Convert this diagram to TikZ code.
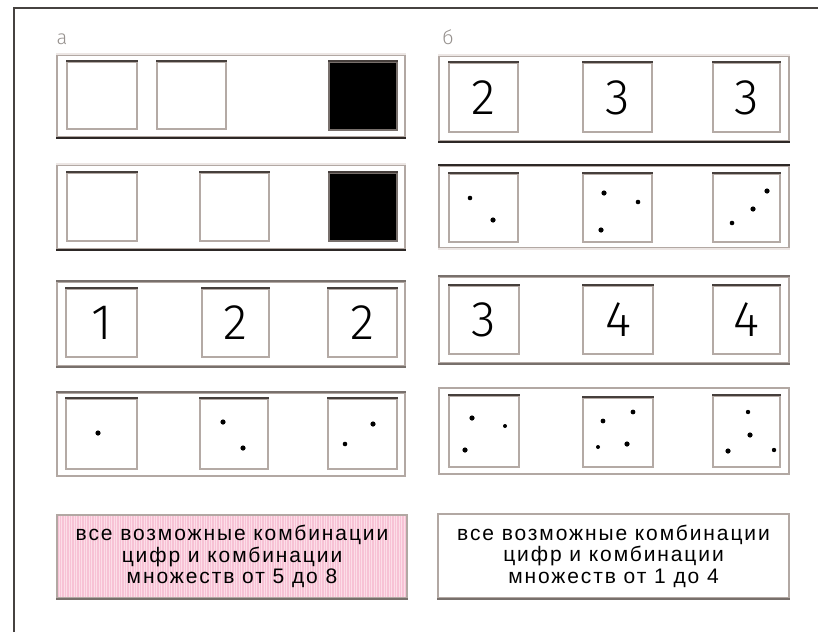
\documentclass[tikz,border=0pt]{standalone}
\usepackage{fontspec}
\setmainfont{Liberation Sans}
\newfontfamily\boxfont[LetterSpace=9]{Liberation Sans}
\newfontfamily\digfont{Fira Sans Light}
\definecolor{framec}{RGB}{70,66,64}
\definecolor{panelc}{RGB}{178,168,163}
\definecolor{lightc}{RGB}{236,230,228}
\definecolor{darkc}{RGB}{45,40,38}
\definecolor{midc}{RGB}{120,112,108}
\definecolor{sqc}{RGB}{180,170,165}
\definecolor{sqtopc}{RGB}{70,63,60}
\definecolor{pinkbase}{RGB}{252,222,232}
\definecolor{pinkstripe}{RGB}{247,194,213}
\definecolor{labc}{RGB}{150,145,142}
\newcommand\sqn[6]{%
  \node[sqbox, minimum width={#4pt-#2pt}, minimum height={#5pt-#3pt}, #6] (#1) at ({(#2+#4)/2},{(#3+#5)/2}) {};%
  \draw[sqtop] (#1.north west) -- (#1.north east);}
\tikzset{
  panel/.style={draw=panelc, line width=2pt, fill=white, inner sep=0pt},
  sqbox/.style={draw=sqc, line width=2pt, fill=white, inner sep=0pt},
  sqtop/.style={draw=sqtopc, line width=2pt},
  blk/.style={fill=black, draw=midc},
  digit/.style={font=\digfont\fontsize{50}{50}\selectfont, inner sep=0pt, text=black},
  dotc/.style={fill=black},
  lab/.style={font=\digfont\fontsize{20}{20}\selectfont, text=labc, inner sep=0pt},
  txtbox/.style={inner sep=0pt, line width=2pt, align=center,
     font=\boxfont\fontsize{21}{21.5}\selectfont},
}
\begin{document}
\begin{tikzpicture}[x=1pt,y=-1pt]
\useasboundingbox (0,0) rectangle (818,632);
% frame
\draw[framec, line width=1.5pt] (14,632) -- (14,8) -- (818,8);
% labels
\node[lab] (la) at (62,39) {а};
\node[lab] (lb) at (448,37) {б};
% ---------- left column ----------
\node[panel, minimum width=348pt, minimum height=82pt] (La) at (231,96) {};
\draw[lightc, line width=2pt] (La.north west) -- (La.north east);
\draw[darkc, line width=2.5pt] (La.south west) -- (La.south east);
\sqn{La1}{67}{62}{137}{129}{}
\sqn{La2}{157}{62}{226}{129}{}
\sqn{La3}{329}{62}{397}{130}{blk}

\node[panel, minimum width=348pt, minimum height=84pt] (Lb) at (231,207) {};
\draw[lightc, line width=2pt] (Lb.north west) -- (Lb.north east);
\draw[darkc, line width=2.5pt] (Lb.south west) -- (Lb.south east);
\sqn{Lb1}{67}{173}{137}{241}{}
\sqn{Lb2}{200}{173}{269}{241}{}
\sqn{Lb3}{329}{173}{397}{241}{blk}

\node[panel, minimum width=348pt, minimum height=84pt] (Lc) at (231,324) {};
\draw[midc, line width=2.5pt] (Lc.north west) -- (Lc.north east);
\draw[midc, line width=2pt] (Lc.south west) -- (Lc.south east);
\sqn{Lc1}{66}{289}{137}{357}{}
\sqn{Lc2}{202}{289}{269}{357}{}
\sqn{Lc3}{328}{289}{397}{357}{}
\node[digit] (dLc1) at (Lc1.center) {1};
\node[digit] (dLc2) at (Lc2.center) {2};
\node[digit] (dLc3) at (Lc3.center) {2};

\node[panel, minimum width=348pt, minimum height=83pt] (Ld) at (231,434.5) {};
\draw[midc, line width=2pt] (Ld.north west) -- (Ld.north east);
\sqn{Ld1}{66}{399}{137}{469}{}
\sqn{Ld2}{200}{399}{268}{469}{}
\sqn{Ld3}{328}{399}{397}{469}{}
\fill[dotc] (98,433) circle (2.6pt);
\fill[dotc] (223,422) circle (2.6pt);
\fill[dotc] (243,448) circle (2.6pt);
\fill[dotc] (373,424) circle (2.6pt);
\fill[dotc] (345,444) circle (2.3pt);
% ---------- right column ----------
\node[panel, minimum width=350pt, minimum height=85pt] (Ra) at (614,98.5) {};
\draw[lightc, line width=2pt] (Ra.north west) -- (Ra.north east);
\draw[darkc, line width=2.5pt] (Ra.south west) -- (Ra.south east);
\sqn{Ra1}{449}{63}{518}{132}{}
\sqn{Ra2}{583}{63}{652}{132}{}
\sqn{Ra3}{713}{63}{780}{132}{}
\node[digit] (dRa1) at (Ra1.center) {2};
\node[digit] (dRa2) at (Ra2.center) {3};
\node[digit] (dRa3) at (Ra3.center) {3};

\node[panel, minimum width=350pt, minimum height=82pt] (Rb) at (614,207) {};
\draw[darkc, line width=2.5pt] (Rb.north west) -- (Rb.north east);
\draw[lightc, line width=2pt] (Rb.south west) -- (Rb.south east);
\sqn{Rb1}{449}{174}{518}{242}{}
\sqn{Rb2}{583}{174}{652}{242}{}
\sqn{Rb3}{713}{174}{780}{242}{}
\fill[dotc] (470,198) circle (2.3pt);
\fill[dotc] (493,220) circle (2.6pt);
\fill[dotc] (604,193) circle (2.6pt);
\fill[dotc] (638,202) circle (2.3pt);
\fill[dotc] (601,230) circle (2.6pt);
\fill[dotc] (767,191) circle (2.6pt);
\fill[dotc] (753,209) circle (2.6pt);
\fill[dotc] (732,223) circle (2.3pt);

\node[panel, minimum width=350pt, minimum height=86pt] (Rc) at (614,320) {};
\draw[midc, line width=2.5pt] (Rc.north west) -- (Rc.north east);
\draw[midc, line width=2pt] (Rc.south west) -- (Rc.south east);
\sqn{Rc1}{449}{286}{519}{354}{}
\sqn{Rc2}{583}{286}{653}{354}{}
\sqn{Rc3}{713}{286}{780}{354}{}
\node[digit] (dRc1) at (Rc1.center) {3};
\node[digit] (dRc2) at (Rc2.center) {4};
\node[digit] (dRc3) at (Rc3.center) {4};

\node[panel, minimum width=350pt, minimum height=86pt] (Rd) at (614,431) {};
\sqn{Rd1}{449}{396}{519}{467}{}
\sqn{Rd2}{583}{398}{653}{467}{}
\sqn{Rd3}{713}{396}{780}{467}{}
\fill[dotc] (472,418) circle (2.6pt);
\fill[dotc] (505,426) circle (2pt);
\fill[dotc] (465,450) circle (2.6pt);
\fill[dotc] (633,412) circle (2.4pt);
\fill[dotc] (603,421) circle (2.4pt);
\fill[dotc] (598,447) circle (2pt);
\fill[dotc] (627,444) circle (2.6pt);
\fill[dotc] (748,412) circle (2.2pt);
\fill[dotc] (750,435) circle (2.6pt);
\fill[dotc] (728,451) circle (2.6pt);
\fill[dotc] (774,450) circle (2.2pt);
% ---------- text boxes ----------
\node[txtbox, draw=panelc, fill=pinkbase, minimum width=350pt, minimum height=83pt,
  path picture={\foreach \i in {1,3.5,...,350}
    \draw[pinkstripe, line width=1.3pt] ([xshift=\i pt]path picture bounding box.south west) -- ([xshift=\i pt]path picture bounding box.north west);}]
  (Ta) at (232,556.5) {};
\node[txtbox] (Tatext) at (Ta.center) {все возможные комбинации\\цифр и комбинации\\множеств от 5 до 8};
\draw[midc, line width=2.5pt] (Ta.south west) -- (Ta.south east);

\node[txtbox, draw=panelc, fill=white, minimum width=351pt, minimum height=84pt] (Tb) at (613.5,556) {все возможные комбинации\\цифр и комбинации\\множеств от 1 до 4};
\draw[midc, line width=2pt] (Tb.south west) -- (Tb.south east);
\end{tikzpicture}
\end{document}
